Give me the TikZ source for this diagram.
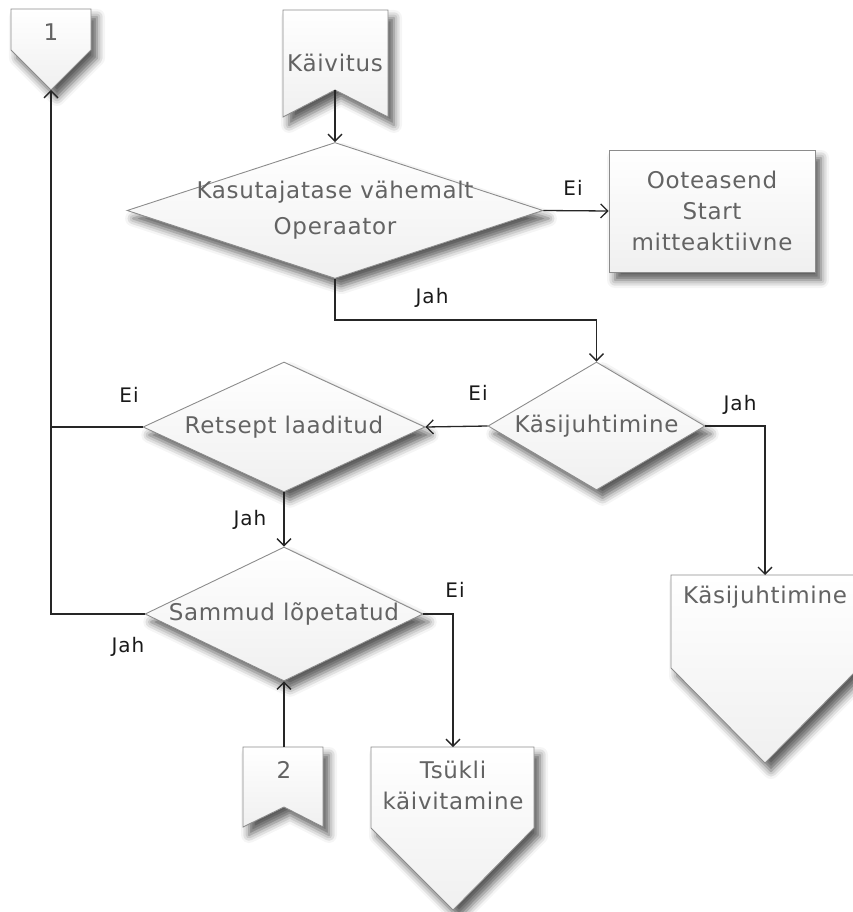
\documentclass[tikz,border=0pt]{standalone}
\usepackage{fontspec}
\setmainfont{DejaVu Sans}
\newfontfamily\shapefont[LetterSpace=3]{DejaVu Sans}
\newfontfamily\branchfont[LetterSpace=5]{DejaVu Sans}
\usetikzlibrary{arrows.meta,shapes.geometric,shadows.blur}
\definecolor{edge}{HTML}{8C8C8C}
\definecolor{ink}{HTML}{636363}
\tikzset{
  shp/.style={draw=edge, line width=0.9pt, top color=white, bottom color=black!6,
    blur shadow={shadow xshift=6pt, shadow yshift=-8pt, shadow blur radius=8pt, shadow opacity=65}},
  dec/.style={shp, diamond, inner sep=0pt},
  txt/.style={text=ink, font=\shapefont\fontsize{23}{31}\selectfont, align=center, inner sep=0pt},
  lbl/.style={font=\branchfont\fontsize{20}{24}\selectfont, text=black!90, inner sep=0pt},
  conn/.style={line width=1.3pt, draw=black!85},
  arr/.style={conn, -{Straight Barb[length=7pt,width=14pt]}}
}
\begin{document}
\begin{tikzpicture}[x=1pt, y=-1pt]
\useasboundingbox (0,0) rectangle (853,912);

% off-page connector "1"
\path[shp] (11,9) -- (91,9) -- (91,50) -- (51,90) -- (11,50) -- cycle;
\node[txt] (one) at (51,32) {1};
\coordinate (oneTip) at (51,90);

% start banner
\path[shp] (283,10) -- (388,10) -- (388,117) -- (335,90) -- (283,117) -- cycle;
\node[txt] (start) at (335,63) {Käivitus};
\coordinate (startTip) at (335,90);

% decisions
\node[dec, minimum width=416pt, minimum height=136pt] (d1) at (335,210.5) {};
\node[txt, font=\shapefont\fontsize{23}{36}\selectfont] (d1t) at (d1) {Kasutajatase vähemalt\\Operaator};

\node[dec, minimum width=217pt, minimum height=128pt] (d2) at (596.5,426) {};
\node[txt] (d2t) at (d2) {Käsijuhtimine};

\node[dec, minimum width=282pt, minimum height=130pt] (d3) at (284,427) {};
\node[txt] (d3t) at (d3) {Retsept laaditud};

\node[dec, minimum width=278pt, minimum height=134pt] (d4) at (284,614) {};
\node[txt] (d4t) at (d4) {Sammud lõpetatud};

% waiting state
\node[shp, rectangle, inner sep=0pt, minimum width=206pt, minimum height=122pt] (wait) at (712,211) {};
\node[txt] (waitt) at (wait) {Ooteasend\\Start\\mitteaktiivne};

% manual mode off-page connector
\path[shp] (671,575) -- (859,575) -- (859,668) -- (765,763) -- (671,668) -- cycle;
\node[txt] (manual) at (765,597) {Käsijuhtimine};
\coordinate (manualTop) at (765,575);

% cycle start off-page connector
\path[shp] (371,747) -- (534,747) -- (534,828) -- (453,910) -- (371,828) -- cycle;
\node[txt] (cyc) at (453,785) {Tsükli\\käivitamine};
\coordinate (cycleTop) at (453,747);

% entry banner "2"
\path[shp] (243,747) -- (323,747) -- (323,827) -- (284,807) -- (243,827) -- cycle;
\node[txt] (two) at (284,770) {2};
\coordinate (twoTop) at (284,747);

% connectors
\coordinate (bend) at (335,320);
\coordinate (join) at (51,427);
\draw[arr] (startTip) -- (d1.north);
\draw[arr] (d1.east) -- (wait.west);
\draw[arr] (d1.south) -- (bend) -| (d2.north);
\draw[arr] (d2.west) -- (d3.east);
\draw[arr] (d3.west) -| (oneTip);
\draw[arr] (d2.east) -| (manualTop);
\draw[arr] (d3.south) -- (d4.north);
\draw[conn] (d4.west) -| (join);
\draw[arr] (d4.east) -| (cycleTop);
\draw[arr] (twoTop) -- (d4.south);

% branch labels
\node[lbl] (l1) at (573,188) {Ei};
\node[lbl] (l2) at (432,298) {Jah};
\node[lbl] (l3) at (478,393) {Ei};
\node[lbl] (l4) at (129,395) {Ei};
\node[lbl] (l5) at (740,405) {Jah};
\node[lbl] (l6) at (250,520) {Jah};
\node[lbl] (l7) at (128,647) {Jah};
\node[lbl] (l8) at (455,590) {Ei};
\end{tikzpicture}
\end{document}
